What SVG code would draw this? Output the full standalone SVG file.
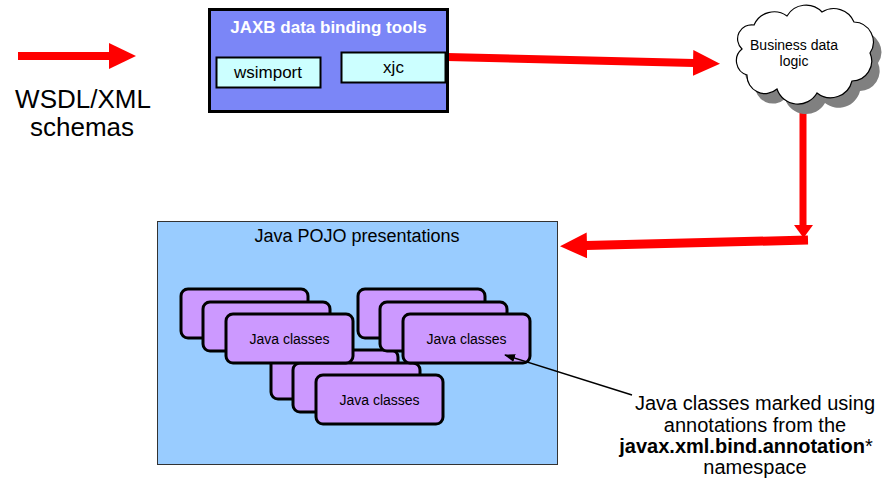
<svg xmlns="http://www.w3.org/2000/svg" width="890" height="482" viewBox="0 0 890 482">
<defs>
<style>
text{font-family:"Liberation Sans",Arial,sans-serif;fill:#000}
.red{stroke:#ff0000;fill:none}
.cls{fill:#cc99ff;stroke:#000;stroke-width:3}
.tool{fill:#ccffff;stroke:#000;stroke-width:2}
</style>
<marker id="rh" markerUnits="userSpaceOnUse" markerWidth="27" markerHeight="26" viewBox="0 0 27 26" refX="1" refY="13" orient="auto"><path d="M0,0 L27,13 L0,26 z" fill="#ff0000"/></marker>
<marker id="bh" markerUnits="userSpaceOnUse" markerWidth="11" markerHeight="8" viewBox="0 0 11 8" refX="10" refY="4" orient="auto"><path d="M0,0 L11,4 L0,8 z" fill="#000"/></marker>
<path id="cloudp" d="M10,42 A14,14 0 0 1 22,18 A22,22 0 0 1 55,9 A22,22 0 0 1 90,5 A22,22 0 0 1 122,15 A20,20 0 0 1 138,46 A20,20 0 0 1 120,74 A22,22 0 0 1 85,86 A22,22 0 0 1 45,82 A18,18 0 0 1 15,68 A15,15 0 0 1 10,42 z"/>
</defs>
<rect width="890" height="482" fill="#fff"/>

<g id="connectors">
<line class="red" x1="18" y1="56" x2="110" y2="56" stroke-width="8" marker-end="url(#rh)"/>
<line class="red" x1="447" y1="57" x2="694" y2="63" stroke-width="8" marker-end="url(#rh)"/>
<line class="red" x1="803" y1="95" x2="803" y2="228" stroke-width="7"/>
<polygon points="794,225 813,225 803.5,238" fill="#ff0000"/>
<line class="red" x1="808" y1="240" x2="586" y2="245.5" stroke-width="9" marker-end="url(#rh)"/>
</g>

<g id="wsdl">
<text x="83" y="108" font-size="26" text-anchor="middle">WSDL/XML</text>
<text x="82" y="136" font-size="26" text-anchor="middle">schemas</text>
</g>

<g id="jaxb">
<rect x="209.5" y="9.5" width="238" height="102" fill="#7b86f7" stroke="#000" stroke-width="3"/>
<text x="328.5" y="33" font-size="17" font-weight="bold" text-anchor="middle" style="fill:#fff">JAXB data binding tools</text>
</g>
<g id="wsimport">
<rect class="tool" x="216.5" y="57.5" width="104" height="30"/>
<text x="268" y="78" font-size="17" text-anchor="middle">wsimport</text>
</g>
<g id="xjc">
<rect class="tool" x="341.5" y="52.5" width="104" height="30"/>
<text x="393.5" y="73" font-size="17" text-anchor="middle">xjc</text>
</g>

<g id="cloud">
<use href="#cloudp" transform="translate(740,17)" fill="#808080"/>
<use href="#cloudp" transform="translate(732,7)" fill="#fff" stroke="#000" stroke-width="1.2"/>
<text x="794" y="50" font-size="14" text-anchor="middle">Business data</text>
<text x="794" y="66" font-size="14" text-anchor="middle">logic</text>
</g>

<g id="pojo">
<rect x="157.5" y="221.5" width="400" height="243" fill="#99ccff" stroke="#333" stroke-width="1"/>
<text x="357" y="242" font-size="18" text-anchor="middle">Java POJO presentations</text>
</g>

<g id="classes3">
<rect class="cls" x="271" y="350" width="127" height="49" rx="7"/>
<rect class="cls" x="293" y="363" width="127" height="49" rx="7"/>
<rect class="cls" x="316" y="375" width="127" height="49" rx="7"/>
<text x="379.5" y="404.5" font-size="14" text-anchor="middle">Java classes</text>
</g>
<g id="classes1">
<rect class="cls" x="181" y="289" width="127" height="49" rx="7"/>
<rect class="cls" x="203" y="302" width="127" height="49" rx="7"/>
<rect class="cls" x="226" y="314" width="127" height="49" rx="7"/>
<text x="289.5" y="343.5" font-size="14" text-anchor="middle">Java classes</text>
</g>
<g id="classes2">
<rect class="cls" x="358" y="289" width="127" height="49" rx="7"/>
<rect class="cls" x="380" y="302" width="127" height="49" rx="7"/>
<rect class="cls" x="403" y="314" width="127" height="49" rx="7"/>
<text x="466.5" y="343.5" font-size="14" text-anchor="middle">Java classes</text>
</g>

<g id="annotation-connector">
<line x1="632" y1="395" x2="505" y2="355" stroke="#000" stroke-width="1.4" marker-end="url(#bh)"/>
</g>
<g id="annotation">
<text x="755" y="410" font-size="20" text-anchor="middle">Java classes marked using</text>
<text x="755" y="432" font-size="20" text-anchor="middle">annotations from the</text>
<text x="746" y="453" font-size="20" text-anchor="middle"><tspan font-weight="bold">javax.xml.bind.annotation</tspan>*</text>
<text x="755" y="474" font-size="20" text-anchor="middle">namespace</text>
</g>
</svg>
